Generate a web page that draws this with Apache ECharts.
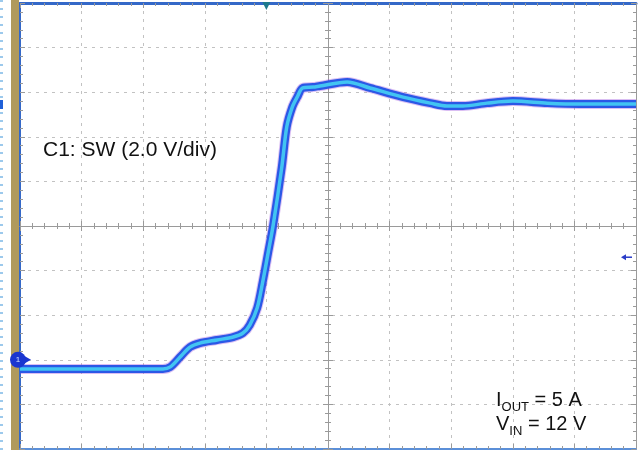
<!DOCTYPE html>
<html>
<head>
<meta charset="utf-8">
<script src="https://cdn.jsdelivr.net/npm/echarts@6/dist/echarts.min.js"></script>
<style>
html, body { margin: 0; padding: 0; background: #fff; }
#chart { width: 640px; height: 450px; }
</style>
</head>
<body>
<div id="chart"></div>
<script>
// horizontal position in scope divisions, SW node voltage in V (2.0 V/div, ground = 0 V)
const timeDiv = [0, 1.0, 2.0, 2.32, 2.44, 2.60, 2.76, 2.92, 3.20, 3.46, 3.62, 3.73, 3.85, 3.94, 4.03, 4.11, 4.25, 4.33, 4.42, 4.50, 4.59, 4.76, 4.87, 5.31, 5.68, 6.22, 6.66, 6.93, 7.19, 7.58, 8.00, 8.56, 9.09, 10.0]
const swVolts = [-0.41, -0.41, -0.41, -0.41, -0.32, 0.13, 0.57, 0.75, 0.89, 1.02, 1.20, 1.56, 2.32, 3.49, 4.83, 6.04, 8.64, 10.44, 11.33, 11.78, 12.19, 12.23, 12.28, 12.46, 12.19, 11.78, 11.51, 11.38, 11.38, 11.51, 11.60, 11.51, 11.47, 11.47]

const xRange = [0, 10]
const yRange = [-4, 16]
const groundMarker = [0, 0]
const triggerPos = [4, 16]
const triggerLevel = [10, 4.6]
const channelLabel = 'C1: SW (2.0 V/div)'

const blue = '#3468c8'
const gray = '#9a9a9a'
const font = 'Liberation Sans, Arial, sans-serif'

const chart = echarts.init(document.getElementById('chart'))

const points = timeDiv.map((t, i) => [t, swVolts[i]])

const dotted = { show: true, lineStyle: { color: '#c2c2c2', type: [3, 5], width: 1 } }
const noLabel = { show: false }

// border / crosshair axis helper
const scopeAxis = (pos, range, step, line, inside, extra) => Object.assign({
  type: 'value',
  position: pos,
  min: range[0],
  max: range[1],
  interval: step,
  axisLine: line,
  axisTick: { show: true, inside, length: 5, lineStyle: { color: gray } },
  minorTick: { show: true, splitNumber: 5, length: 3, lineStyle: { color: gray } },
  axisLabel: noLabel,
  splitLine: { show: false }
}, extra || {})

const hiddenAxis = (range) => ({
  type: 'value', min: range[0], max: range[1],
  axisLine: { show: false }, axisTick: { show: false }, axisLabel: noLabel, splitLine: { show: false }
})

const option = {
  animation: false,
  grid: { left: 20, top: 3, right: 4, bottom: 1, show: false },
  xAxis: [
    scopeAxis('bottom', xRange, 1, { onZero: false, lineStyle: { color: '#5b8fd8', width: 2 } }, true, { splitLine: dotted }),
    scopeAxis('top', xRange, 1, { onZero: false, lineStyle: { color: blue, width: 3 } }, true),
    scopeAxis('bottom', xRange, 1, { onZero: true, onZeroAxisIndex: 2, lineStyle: { color: gray } }, true),
    scopeAxis('bottom', xRange, 1, { onZero: true, onZeroAxisIndex: 2, lineStyle: { color: gray } }, false),
    hiddenAxis([-5, 5])
  ],
  yAxis: [
    scopeAxis('left', yRange, 2, { onZero: false, lineStyle: { color: blue, width: 2 } }, true, { splitLine: dotted }),
    scopeAxis('right', yRange, 2, { onZero: false, lineStyle: { color: gray } }, true),
    hiddenAxis([-5, 5]),
    scopeAxis('left', yRange, 2, { onZero: true, onZeroAxisIndex: 4, lineStyle: { color: gray } }, true),
    scopeAxis('left', yRange, 2, { onZero: true, onZeroAxisIndex: 4, lineStyle: { color: gray } }, false)
  ],
  series: [
    { type: 'line', data: points, smooth: 0.3, symbol: 'none', lineStyle: { color: 'rgba(150,70,220,0.35)', width: 10 }, z: 3 },
    { type: 'line', data: points, smooth: 0.3, symbol: 'none', lineStyle: { color: '#2b58e6', width: 8 }, z: 4 },
    { type: 'line', data: points, smooth: 0.3, symbol: 'none', lineStyle: { color: '#42c4f2', width: 3.5 }, z: 5 }
  ]
}

chart.setOption(option)

const gnd = chart.convertToPixel({ xAxisIndex: 0, yAxisIndex: 0 }, groundMarker)
const trg = chart.convertToPixel({ xAxisIndex: 0, yAxisIndex: 0 }, triggerPos)
const lvl = chart.convertToPixel({ xAxisIndex: 0, yAxisIndex: 0 }, triggerLevel)

chart.setOption({
  graphic: [
    { type: 'line', shape: { x1: 1.5, y1: 0, x2: 1.5, y2: 450 }, style: { stroke: '#9cc9ec', lineWidth: 3, lineDash: [2, 6] }, z: 1 },
    { type: 'rect', shape: { x: 11, y: 0, width: 8, height: 450 }, style: { fill: '#b09a5c' }, z: 1 },
    { type: 'rect', shape: { x: 0, y: 100, width: 3, height: 9 }, style: { fill: '#2060d8' }, z: 1 },
    // channel 1 ground marker
    { type: 'polygon', shape: { points: [[gnd[0] + 4, gnd[1] - 4], [gnd[0] + 11, gnd[1]], [gnd[0] + 4, gnd[1] + 4]] }, style: { fill: '#1a36d0' }, z: 20 },
    { type: 'circle', shape: { cx: gnd[0] - 2, cy: gnd[1], r: 8 }, style: { fill: '#1a36d0' }, z: 21 },
    { type: 'text', x: gnd[0] - 2, y: gnd[1], style: { text: '1', fill: '#cfe0ff', font: '8px ' + font, align: 'center', verticalAlign: 'middle' }, z: 22 },
    // trigger position
    { type: 'polygon', shape: { points: [[trg[0] - 4, trg[1] - 1], [trg[0] + 4, trg[1] - 1], [trg[0], trg[1] + 7]] }, style: { fill: '#1e7a8c' }, z: 20 },
    // trigger level
    { type: 'line', shape: { x1: lvl[0] - 12, y1: lvl[1], x2: lvl[0] - 4, y2: lvl[1] }, style: { stroke: '#2a3cc8', lineWidth: 1.5 }, z: 20 },
    { type: 'polygon', shape: { points: [[lvl[0] - 15, lvl[1]], [lvl[0] - 10, lvl[1] - 3], [lvl[0] - 10, lvl[1] + 3]] }, style: { fill: '#2a3cc8' }, z: 20 },
    // annotations
    { type: 'text', x: 43, y: 150, style: { text: channelLabel, fill: '#111', font: '21px ' + font, verticalAlign: 'middle' }, z: 30 },
    {
      type: 'text', x: 496, y: 386, z: 30,
      style: {
        text: '{m|I}{s|OUT}{m| = 5 A}\n{m|V}{s|IN}{m| = 12 V}',
        rich: {
          m: { fontSize: 20, fontFamily: font, fill: '#111', lineHeight: 24, verticalAlign: 'bottom' },
          s: { fontSize: 13, fontFamily: font, fill: '#111', lineHeight: 12, verticalAlign: 'bottom', padding: [0, 0, -4, 0] }
        }
      }
    }
  ]
})
</script>
</body>
</html>
